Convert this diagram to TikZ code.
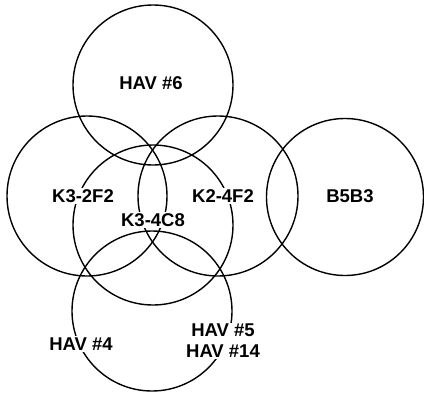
\documentclass[tikz,border=0pt]{standalone}
\usepackage{fontspec}
\setmainfont{Liberation Sans}
\begin{document}
\begin{tikzpicture}[x=1pt,y=-1pt,
  ring/.style={draw=black,line width=1.4pt},
  tag/.style={fill=white,inner sep=1.5pt,font=\bfseries\fontsize{18.5}{21}\selectfont,align=center}]
\useasboundingbox (0,0) rectangle (424,394);
% overlapping sets
\draw[ring] (153,85) circle (80);
\draw[ring] (87,196) circle (80);
\draw[ring] (218,196) circle (80);
\draw[ring] (345,197) circle (78.5);
\draw[ring] (153,225) circle (80);
\draw[ring] (152,311) circle (80);
% set labels
\node[tag] (hav6) at (151,83) {HAV \#6};
\node[tag] (k32f2) at (83,196) {K3-2F2};
\node[tag] (k24f2) at (223,196) {K2-4F2};
\node[tag] (b5b3) at (350,196) {B5B3};
\node[tag] (k34c8) at (153,220) {K3-4C8};
\node[tag] (hav4) at (81,344) {HAV \#4};
\node[tag] (hav514) at (223,341) {HAV \#5\\HAV \#14};
\end{tikzpicture}
\end{document}
